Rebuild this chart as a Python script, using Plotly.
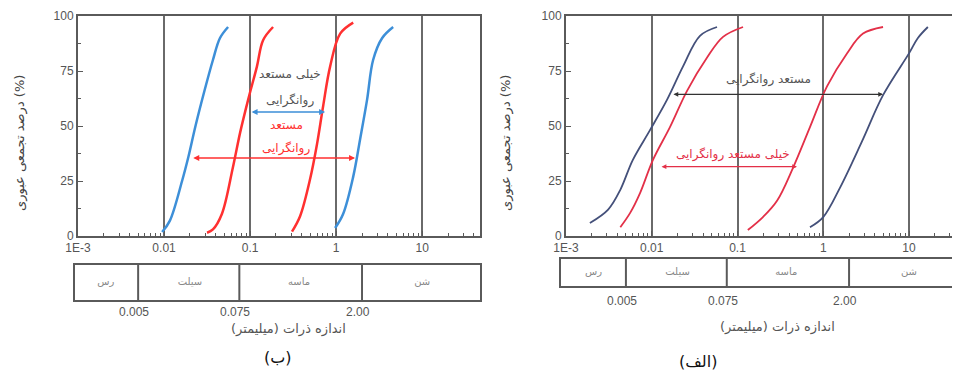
import numpy as np
import plotly.graph_objects as go

# ---- panel (ب) : left ----
b_blue1_d = [0.0095, 0.0117, 0.0162, 0.0192, 0.0232, 0.0295, 0.037, 0.0447, 0.0555]
b_blue1_p = [1.8, 7, 25, 36, 50, 66, 80, 90, 95]
b_red1_d = [0.0316, 0.037, 0.047, 0.063, 0.0766, 0.095, 0.12, 0.1416, 0.185]
b_red1_p = [1.5, 3, 10, 31, 47, 62, 77, 89, 95]
b_red2_d = [0.307, 0.381, 0.499, 0.601, 0.706, 0.851, 1.114, 1.58]
b_red2_p = [2, 9, 26, 42, 59, 77, 92, 97]
b_blue2_d = [0.973, 1.205, 1.58, 1.9, 2.29, 2.69, 3.43, 4.6]
b_blue2_p = [3.6, 10, 27, 44, 62, 80, 90, 95]

# ---- panel (الف) : right ----
a_navy1_d = [0.0019, 0.0031, 0.0043, 0.0060, 0.0095, 0.0151, 0.0231, 0.0365, 0.0577]
a_navy1_p = [5.9, 12, 21, 34.5, 48, 62, 77, 91, 95]
a_red1_d = [0.0043, 0.0056, 0.0073, 0.0103, 0.0163, 0.0258, 0.044, 0.0678, 0.116]
a_red1_p = [4, 10.5, 19.5, 34.5, 49.5, 66, 81, 90.5, 95]
a_red2_d = [0.132, 0.198, 0.289, 0.444, 0.70, 1.106, 1.89, 2.91, 4.98]
a_red2_p = [2.7, 8.6, 16, 31, 49.5, 68, 83, 92, 95]
a_navy2_d = [0.70, 1.0, 1.57, 2.83, 4.98, 10, 12.7, 16.6]
a_navy2_p = [4, 8.6, 22, 43, 64, 83, 90, 95]

# soil classes
class_names = ["رس", "سیلت", "ماسه", "شن"]
class_mid = [0.0021, 0.02, 0.37, 10]
class_bounds = [0.005, 0.075, 2.0]
bound_text = ["0.005", "0.075", "2.00"]

tick_vals = [0.001, 0.01, 0.1, 1, 10]
tick_text = ["1E-3", "0.01", "0.1", "1", "10"]

y_title = "درصد تجمعی عبوری (%)"
x_title = "اندازه ذرات (میلیمتر)"

NUM_FONT = "Liberation Sans, Arial"
FA_FONT = "DejaVu Sans"
AX = "#5a5a5a"

# page body has an 8px margin, so the figure is laid out in window pixels minus 8
OFF = 8
W, H = 960 - OFF, 374 - OFF


def px(x):
    return (x - OFF) / W


def py(y):
    return 1 - (y - OFF) / H


fig = go.Figure()


def curve(d, p, color, w, xa, ya):
    fig.add_trace(go.Scatter(x=d, y=p, mode="lines", line=dict(color=color, width=w, shape="spline"),
                             xaxis=xa, yaxis=ya, showlegend=False, hoverinfo="skip"))


curve(b_blue1_d, b_blue1_p, "#3d8fd8", 2.5, "x", "y")
curve(b_red1_d, b_red1_p, "#ff3030", 2.5, "x", "y")
curve(b_red2_d, b_red2_p, "#ff3030", 2.5, "x", "y")
curve(b_blue2_d, b_blue2_p, "#3d8fd8", 2.5, "x", "y")

curve(a_navy1_d, a_navy1_p, "#44507a", 1.8, "x2", "y2")
curve(a_red1_d, a_red1_p, "#e33048", 1.8, "x2", "y2")
curve(a_red2_d, a_red2_p, "#e33048", 1.8, "x2", "y2")
curve(a_navy2_d, a_navy2_p, "#44507a", 1.8, "x2", "y2")

# class boxes
for xa, ya in [("x3", "y3"), ("x4", "y4")]:
    for b in class_bounds:
        fig.add_trace(go.Scatter(x=[b, b], y=[0, 1], mode="lines", line=dict(color=AX, width=2),
                                 xaxis=xa, yaxis=ya, showlegend=False, hoverinfo="skip"))
    fig.add_trace(go.Scatter(x=class_mid, y=[0.5] * 4, mode="text", text=class_names,
                             textfont=dict(family=FA_FONT, size=10, color="#888"),
                             xaxis=xa, yaxis=ya, showlegend=False, hoverinfo="skip"))

minor_x = [k * 10 ** e for e in range(-3, 2) for k in range(2, 10)]

xcommon = dict(type="log", tickvals=tick_vals, ticktext=tick_text, ticks="inside", ticklen=5,
               tickcolor=AX, showline=True, linecolor=AX, linewidth=2, mirror=True,
               showgrid=True, gridcolor="#6a6a6a", gridwidth=1.5, zeroline=False, automargin=False,
               tickfont=dict(family=NUM_FONT, size=12, color="#555"),
               minor=dict(tickvals=minor_x, ticks="inside", ticklen=3, tickcolor=AX, showgrid=False))
ycommon = dict(range=[0, 100], tickvals=[0, 25, 50, 75, 100], ticks="inside", ticklen=5, tickcolor=AX,
               showline=True, linecolor=AX, linewidth=2, showgrid=False, zeroline=False, automargin=False,
               tickfont=dict(family=NUM_FONT, size=12, color="#555"),
               minor=dict(tickvals=[12.5, 37.5, 62.5, 87.5], ticks="inside", ticklen=3, tickcolor=AX),
               domain=[py(236), py(16)])
boxx = dict(type="log", showline=True, linecolor=AX, linewidth=2, mirror=True, showgrid=False,
            showticklabels=False, ticks="", zeroline=False, automargin=False)
boxy = dict(range=[0, 1], showline=True, linecolor=AX, linewidth=2, showgrid=False,
            showticklabels=False, ticks="", zeroline=False, automargin=False)

right_end = -3 + (960 - 566) / 85.75

fig.update_layout(
    width=W, height=H, margin=dict(l=0, r=0, t=0, b=0),
    paper_bgcolor="white", plot_bgcolor="white",
    xaxis=dict(xcommon, range=[-3, np.log10(47)], domain=[px(78), px(480)], anchor="y"),
    yaxis=dict(ycommon, anchor="x", mirror=True),
    xaxis2=dict(xcommon, range=[-3, right_end], domain=[px(566), 1.0], anchor="y2"),
    yaxis2=dict(ycommon, anchor="x2", mirror=False),
    xaxis3=dict(boxx, range=[-3 - 3 / 86, np.log10(47)], domain=[px(75), px(480)], anchor="y3"),
    yaxis3=dict(boxy, domain=[py(300), py(265)], anchor="x3", mirror=True),
    xaxis4=dict(boxx, range=[-3 - 5 / 86, right_end], domain=[px(561), 1.0], anchor="y4"),
    yaxis4=dict(boxy, domain=[py(286), py(259)], anchor="x4", mirror=False),
)

ann = []


def txt(text, x, y, color, size=12, xref="paper", yref="paper", angle=0, family=FA_FONT):
    ann.append(dict(text=text, x=x, y=y, xref=xref, yref=yref, showarrow=False, textangle=angle,
                    font=dict(family=family, size=size, color=color), xanchor="center", yanchor="middle"))


def arrow(d0, d1, p, color, xref, yref, w=1.5):
    ann.append(dict(x=np.log10(d1), y=p, ax=np.log10(d0), ay=p, xref=xref, yref=yref,
                    axref=xref, ayref=yref, text="", showarrow=True, arrowhead=2, arrowside="end+start",
                    arrowsize=0.8, arrowwidth=w, arrowcolor=color))


# panel (ب) annotations
txt("خیلی مستعد", -0.535, 73.6, "#555", 12, "x", "y")
txt("روانگرایی", -0.535, 61.8, "#555", 12, "x", "y")
arrow(0.1, 0.745, 56.4, "#3d8fd8", "x", "y")
txt("مستعد", -0.581, 50.5, "#ff3030", 12, "x", "y")
txt("روانگرایی", -0.581, 40, "#ff3030", 12, "x", "y")
arrow(0.021, 1.66, 35.5, "#ff3030", "x", "y")

# panel (الف) annotations
txt("مستعد روانگرایی", -0.644, 71.2, "#555", 12, "x2", "y2")
arrow(0.0172, 4.98, 64.4, "#333", "x2", "y2", 1.2)
txt("خیلی مستعد روانگرایی", -1.053, 37, "#e33048", 12, "x2", "y2")
arrow(0.0125, 0.494, 31.5, "#e33048", "x2", "y2", 1.2)

# boundary labels
for b, t in zip(class_bounds, bound_text):
    txt(t, np.log10(b) - 0.05, py(312), "#555", 12, "x", "paper", family=NUM_FONT)
    txt(t, np.log10(b) - 0.05, py(301), "#555", 12, "x2", "paper", family=NUM_FONT)

# axis titles and captions
txt(y_title, px(20), py(143), "#444", 13, angle=-90)
txt(y_title, px(506), py(143), "#444", 13, angle=-90)
txt(x_title, px(288), py(329), "#555", 13)
txt(x_title, px(777), py(327), "#555", 13)
txt("(ب)", px(278), py(357), "#111", 16)
txt("(الف)", px(698), py(361), "#111", 16)

fig.update_layout(annotations=ann)

fig.write_html("out.html")
